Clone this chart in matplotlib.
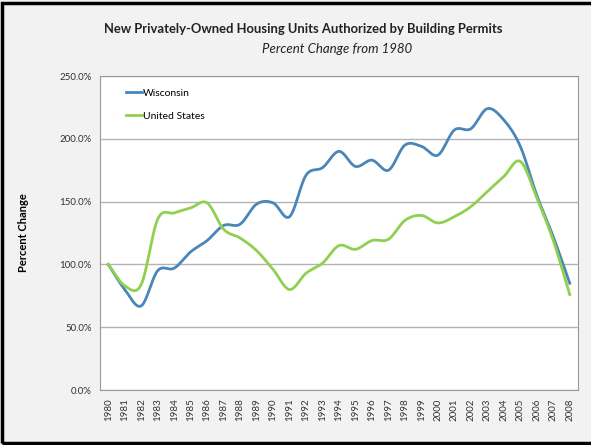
import numpy as np
import matplotlib.pyplot as plt
from matplotlib.patches import Rectangle

years = [str(y) for y in range(1980, 2009)]

wisconsin = [100, 80, 67, 95, 97, 110, 119, 131, 132, 148, 149, 138, 171, 177,
             190, 178, 183, 175, 195, 194, 187, 207, 208, 224, 215, 194, 155, 122, 85]
united_states = [100, 83, 84, 136, 141, 145, 149, 128, 121, 111, 96, 80, 93, 101,
                 115, 112, 119, 120, 135, 139, 133, 138, 146, 158, 170, 182, 153, 119, 76]


def smooth(y, n=20):
    # catmull-rom curve through the points, like Excel's smoothed line
    y = np.asarray(y, dtype=float)
    p = np.concatenate([[2 * y[0] - y[1]], y, [2 * y[-1] - y[-2]]])
    xs, ys = [], []
    for i in range(1, len(p) - 2):
        t = np.linspace(0, 1, n, endpoint=False)
        p0, p1, p2, p3 = p[i - 1], p[i], p[i + 1], p[i + 2]
        seg = 0.5 * (2 * p1 + (-p0 + p2) * t + (2 * p0 - 5 * p1 + 4 * p2 - p3) * t ** 2
                     + (-p0 + 3 * p1 - 3 * p2 + p3) * t ** 3)
        xs.append(i - 1 + t)
        ys.append(seg)
    xs.append([len(y) - 1])
    ys.append([y[-1]])
    return np.concatenate(xs), np.concatenate(ys)


plt.rcParams['font.family'] = ['Lato', 'DejaVu Sans']

fig = plt.figure(figsize=(5.91, 4.45), dpi=100)
fig.patch.set_facecolor('#f2f2f2')
fig.patches.append(Rectangle((0.004, 0.004), 1.2, 0.99, transform=fig.transFigure,
                             fill=False, edgecolor='black', linewidth=2.5))

ax = fig.add_axes([100 / 591, 1 - 390 / 445, 478 / 591, 314 / 445])
ax.set_facecolor('white')

x = np.arange(len(years))
wx, wy = smooth(wisconsin)
ux, uy = smooth(united_states)
ax.plot(wx, wy, color='#4a86b8', linewidth=2, label='Wisconsin')
ax.plot(ux, uy, color='#8fd14f', linewidth=2, label='United States')

ax.set_xlim(-0.5, len(years) - 0.5)
ax.set_ylim(0, 250)
ax.set_xticks(x)
ax.set_xticklabels(years, rotation=90, fontsize=7, color='#333333')
ax.set_yticks(np.arange(0, 251, 50))
ax.set_yticklabels([f'{v:.1f}%' for v in range(0, 251, 50)], fontsize=7, color='#333333')
ax.tick_params(length=0, pad=6)
ax.grid(axis='y', color='#b3b3b3', linewidth=1)
ax.set_axisbelow(True)
for s in ax.spines.values():
    s.set_color('#999999')

ax.set_ylabel('Percent Change', fontsize=8, fontweight='bold', labelpad=22)

ax.legend(loc='upper left', frameon=False, fontsize=7.5, handlelength=1.5,
          handletextpad=0.1, labelspacing=1.3, bbox_to_anchor=(0.035, 0.99))

fig.text(303 / 591, 1 - 29 / 445, 'New Privately-Owned Housing Units Authorized by Building Permits',
         ha='center', va='center', fontsize=9.4, fontweight='bold', color='#222222')
fig.text(337 / 591, 1 - 49 / 445, 'Percent Change from 1980', ha='center', va='center',
         fontsize=9.5, fontstyle='italic', color='#222222')

fig.savefig('out.png', dpi=100)
